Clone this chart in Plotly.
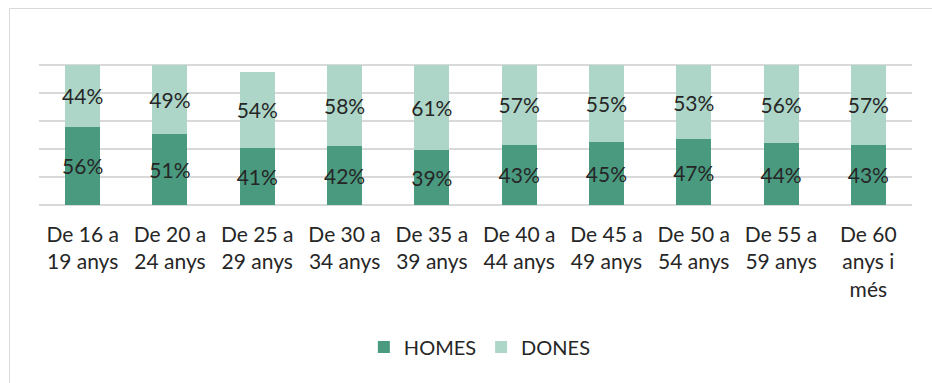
import plotly.graph_objects as go

categories = [
    "De 16 a<br>19 anys", "De 20 a<br>24 anys", "De 25 a<br>29 anys",
    "De 30 a<br>34 anys", "De 35 a<br>39 anys", "De 40 a<br>44 anys",
    "De 45 a<br>49 anys", "De 50 a<br>54 anys", "De 55 a<br>59 anys",
    "De 60<br>anys i<br>més",
]
homes = [56, 51, 41, 42, 39, 43, 45, 47, 44, 43]
dones = [44, 49, 54, 58, 61, 57, 55, 53, 56, 57]

DARK = "#4A9A80"
LIGHT = "#ADD6C9"
TEXT = "#262626"
FONT = "Lato"
WEIGHT = 400


def bar(name, values, color):
    return go.Bar(
        name=name,
        x=categories,
        y=values,
        marker=dict(color=color, line=dict(width=0)),
        text=[f"{v}%" for v in values],
        textposition="inside",
        insidetextanchor="middle",
        textangle=0,
        constraintext="none",
        textfont=dict(family=FONT, size=21, color=TEXT, weight=WEIGHT),
        hoverinfo="skip",
    )


fig = go.Figure([bar("HOMES", homes, DARK), bar("DONES", dones, LIGHT)])

fig.update_layout(
    width=932,
    height=383,
    margin=dict(l=39, r=20, t=37, b=178),
    barmode="stack",
    bargap=0.6,
    plot_bgcolor="white",
    paper_bgcolor="white",
    font=dict(family=FONT, size=21, color=TEXT, weight=WEIGHT),
    showlegend=True,
    legend=dict(
        orientation="h",
        x=0.505,
        xanchor="center",
        y=-0.845,
        yanchor="middle",
        font=dict(family=FONT, size=20, color=TEXT, weight=WEIGHT),
        itemwidth=30,
        traceorder="normal",
    ),
    xaxis=dict(
        showgrid=False,
        showline=False,
        ticks="",
        tickfont=dict(family=FONT, size=21, color=TEXT, weight=WEIGHT),
        ticklabelstandoff=15,
    ),
    yaxis=dict(
        range=[0, 120],
        dtick=20,
        showgrid=True,
        gridcolor="#D9D9D9",
        gridwidth=1.5,
        showticklabels=False,
        zeroline=True,
        zerolinecolor="#D9D9D9",
        zerolinewidth=1.5,
        fixedrange=True,
    ),
    shapes=[
        dict(
            type="rect",
            xref="paper",
            yref="paper",
            x0=(9.5 - 39) / 873,
            x1=(945 - 39) / 873,
            y0=(205 - 395) / 168,
            y1=(205 - 8.5) / 168,
            line=dict(color="#D9D9D9", width=1),
            fillcolor="rgba(0,0,0,0)",
            layer="below",
        )
    ],
)

fig.write_html("out.html")
